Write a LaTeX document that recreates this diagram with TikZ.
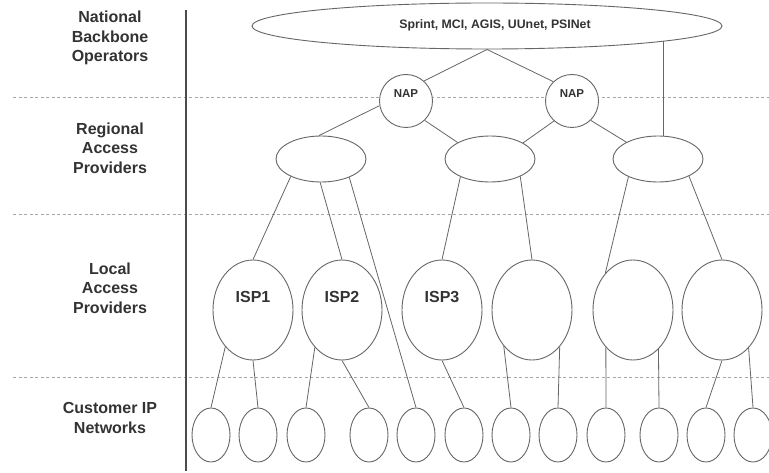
\documentclass[tikz,border=0pt]{standalone}
\usepackage{fontspec}
\setmainfont{Liberation Sans}
\usetikzlibrary{shapes.geometric}
\definecolor{ln}{HTML}{666666}
\definecolor{txt}{HTML}{333333}
\tikzset{
  ov/.style={ellipse, draw=ln, line width=0.9pt, fill=white, inner sep=0pt},
  bb/.style={ov, minimum width=470pt, minimum height=46pt},
  nap/.style={circle, draw=ln, line width=0.9pt, fill=white, inner sep=0pt, minimum size=53pt},
  reg/.style={ov, minimum width=90pt, minimum height=46pt},
  loc/.style={ov, minimum width=80pt, minimum height=100pt},
  cus/.style={ov, minimum width=38pt, minimum height=54pt},
  conn/.style={draw=ln, line width=0.8pt},
  sep/.style={draw=gray!70, line width=0.9pt, dash pattern=on 3pt off 2.5pt},
  side/.style={text=txt, font=\fontsize{16}{19.5}\selectfont\bfseries, align=center},
  lab/.style={text=txt, font=\fontsize{16}{19}\selectfont\bfseries}
}
\begin{document}
\begin{tikzpicture}[x=1pt,y=-1pt]
\useasboundingbox (0,0) rectangle (769,473);
\clip (0,0) rectangle (769,473);
\fill[white] (0,0) rectangle (769,473);
% separators
\coordinate (s1a) at (13,97);  \coordinate (s1b) at (769,97);
\coordinate (s2a) at (13,214); \coordinate (s2b) at (769,214);
\coordinate (s3a) at (13,377); \coordinate (s3b) at (769,377);
\draw[sep] (s1a) -- (s1b);
\draw[sep] (s2a) -- (s2b);
\draw[sep] (s3a) -- (s3b);
\coordinate (va) at (186,10); \coordinate (vb) at (186,471);
\draw[draw=gray!60!black, line width=1.2pt] (va) -- (vb);
% side labels
\node[side] (t1) at (110,38) {National\\Backbone\\Operators};
\node[side] (t2) at (110,148) {Regional\\Access\\Providers};
\node[side] (t3) at (110,288) {Local\\Access\\Providers};
\node[side] (t4) at (110,418) {Customer IP\\Networks};
% nodes
\node[bb] (BB) at (487,26) {};
\node[text=txt, font=\fontsize{12.3}{14}\selectfont\bfseries] (BBt) at (495,25) {Sprint, MCI, AGIS, UUnet, PSINet};
\node[nap] (N1) at (406,101) {};
\node[text=txt, font=\fontsize{11.5}{13}\selectfont\bfseries] (N1t) at (406,94) {NAP};
\node[nap] (N2) at (572,101) {};
\node[text=txt, font=\fontsize{11.5}{13}\selectfont\bfseries] (N2t) at (572,94) {NAP};
\node[reg] (R1) at (321,159) {};
\node[reg] (R2) at (490,159) {};
\node[reg] (R3) at (658,159) {};
\node[loc] (L1) at (253,310) {};
\node[loc] (L2) at (342,310) {};
\node[loc] (L3) at (442,310) {};
\node[loc] (L4) at (532,310) {};
\node[loc] (L5) at (633,310) {};
\node[loc] (L6) at (722,310) {};
\node[lab] (L1t) at (253,297) {ISP1};
\node[lab] (L2t) at (342,297) {ISP2};
\node[lab] (L3t) at (442,297) {ISP3};
\foreach \i/\x in {1/211,2/258,3/306,4/369,5/416,6/464,7/511,8/558,9/606,10/659,11/706,12/753}
  \node[cus] (C\i) at (\x,435) {};
% connectors
\draw[conn] (BB.south) -- (N1.48);
\draw[conn] (BB.south) -- (N2.134);
\draw[conn] (BB.-5.5) -- (BB.-5.5 |- R3.north);
\draw[conn] (N1.190) -- (R1.95);
\draw[conn] (N1.-46) -- (R2.153);
\draw[conn] (N2.228) -- (R2.26);
\draw[conn] (N2.-46) -- (R3.152);
\draw[conn] (R1.210) -- (L1.north);
\draw[conn] (R1.268) -- (L2.north);
\draw[conn] (R1.-33) -- (C5.north);
\draw[conn] (R2.211) -- (L3.north);
\draw[conn] (R2.-30) -- (L4.north);
\draw[conn] (R3.211) -- (L5.127);
\draw[conn] (R3.-29) -- (L6.north);
\draw[conn] (L1.233) -- (C1.north);
\draw[conn] (L1.south) -- (C2.north);
\draw[conn] (L2.234) -- (C3.north);
\draw[conn] (L2.south) -- (C4.north);
\draw[conn] (L3.south) -- (C6.north);
\draw[conn] (L4.232) -- (C7.north);
\draw[conn] (L4.-53) -- (C8.north);
\draw[conn] (L5.234) -- (C9.north);
\draw[conn] (L5.-57) -- (C10.north);
\draw[conn] (L6.south) -- (C11.north);
\draw[conn] (L6.-55) -- (C12.north);
\end{tikzpicture}
\end{document}
